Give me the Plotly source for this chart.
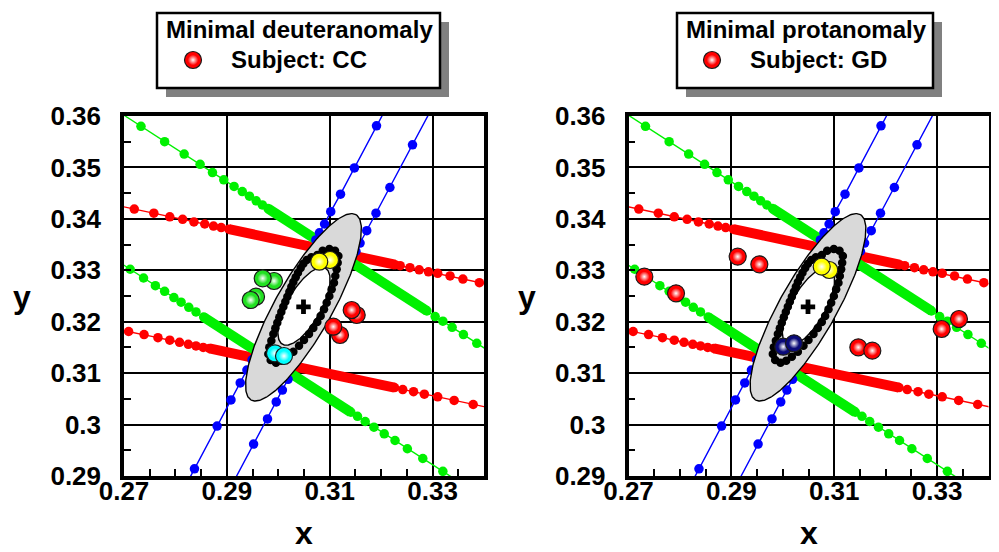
import numpy as np
import plotly.graph_objects as go

# The page places the figure 8 px in from the top-left corner, so the figure is
# laid out in reference-pixel coordinates minus this offset.
OFF = 8
W, H = 999 - OFF, 552 - OFF
FONT = "Liberation Sans, Arial, sans-serif"

# ---------------- axes / ticks ----------------
X_RANGE = [0.27, 0.34]
Y_RANGE = [0.29, 0.36]
X_TICKS = [0.27, 0.29, 0.31, 0.33]
X_TICK_LABELS = ["0.27", "0.29", "0.31", "0.33"]
Y_TICKS = [0.29, 0.30, 0.31, 0.32, 0.33, 0.34, 0.35, 0.36]
Y_TICK_LABELS = ["0.29", "0.3", "0.31", "0.32", "0.33", "0.34", "0.35", "0.36"]

# ---------------- confusion lines (dot positions) ----------------
RED_UPPER_X = [0.2673, 0.2720, 0.2758, 0.2789, 0.2814, 0.2836, 0.2857, 0.2874, 0.2889, 0.2904,
               0.3227, 0.3237, 0.3256, 0.3274, 0.3292, 0.3310, 0.3334, 0.3359, 0.3391, 0.3429]
RED_UPPER_Y = [0.3429, 0.3419, 0.3411, 0.3404, 0.3399, 0.3394, 0.3390, 0.3386, 0.3383, 0.3380,
               0.3311, 0.3309, 0.3305, 0.3301, 0.3297, 0.3294, 0.3289, 0.3283, 0.3276, 0.3268]
RED_UPPER_DENSE_X = [0.2904, 0.3227]
RED_UPPER_DENSE_Y = [0.3380, 0.3311]

RED_LOWER_X = [0.2683, 0.2709, 0.2739, 0.2766, 0.2789, 0.2808, 0.2825, 0.2840, 0.2854, 0.2866,
               0.3226, 0.3242, 0.3263, 0.3284, 0.3310, 0.3342, 0.3379, 0.3423]
RED_LOWER_Y = [0.3186, 0.3181, 0.3175, 0.3169, 0.3164, 0.3160, 0.3156, 0.3153, 0.3150, 0.3148,
               0.3072, 0.3068, 0.3064, 0.3059, 0.3054, 0.3047, 0.3039, 0.3030]
RED_LOWER_DENSE_X = [0.2866, 0.3226]
RED_LOWER_DENSE_Y = [0.3148, 0.3072]

GREEN_UPPER_X = [0.2679, 0.2733, 0.2779, 0.2817, 0.2848, 0.2872, 0.2894, 0.2914, 0.2930, 0.2944,
                 0.2957, 0.2969, 0.2980, 0.3289, 0.3305, 0.3320, 0.3338, 0.3360, 0.3386, 0.3417]
GREEN_UPPER_Y = [0.3615, 0.3580, 0.3550, 0.3526, 0.3506, 0.3490, 0.3476, 0.3463, 0.3453, 0.3444,
                 0.3435, 0.3427, 0.3420, 0.3221, 0.3210, 0.3201, 0.3189, 0.3175, 0.3158, 0.3138]
GREEN_UPPER_DENSE_X = [0.2980, 0.3289]
GREEN_UPPER_DENSE_Y = [0.3420, 0.3221]

GREEN_LOWER_X = [0.2681, 0.2712, 0.2738, 0.2761, 0.2779, 0.2797, 0.2811, 0.2826, 0.2840, 0.2855,
                 0.3141, 0.3154, 0.3169, 0.3186, 0.3206, 0.3227, 0.3251, 0.3281, 0.3320, 0.3368]
GREEN_LOWER_Y = [0.3322, 0.3302, 0.3285, 0.3270, 0.3259, 0.3247, 0.3238, 0.3228, 0.3219, 0.3209,
                 0.3024, 0.3016, 0.3006, 0.2995, 0.2982, 0.2969, 0.2953, 0.2934, 0.2909, 0.2878]
GREEN_LOWER_DENSE_X = [0.2855, 0.3141]
GREEN_LOWER_DENSE_Y = [0.3209, 0.3024]

BLUE_LEFT_X = [0.2770, 0.2837, 0.2881, 0.2908, 0.2926, 0.2939, 0.2949, 0.2958,
               0.3073, 0.3080, 0.3090, 0.3102, 0.3121, 0.3148, 0.3191, 0.3253]
BLUE_LEFT_Y = [0.2787, 0.2914, 0.2997, 0.3048, 0.3081, 0.3106, 0.3126, 0.3141,
               0.3359, 0.3373, 0.3390, 0.3414, 0.3448, 0.3499, 0.3581, 0.3697]

BLUE_RIGHT_X = [0.2910, 0.2952, 0.2979, 0.2996, 0.3008, 0.3019,
                0.3151, 0.3159, 0.3172, 0.3190, 0.3217, 0.3261, 0.3328]
BLUE_RIGHT_Y = [0.2883, 0.2962, 0.3011, 0.3044, 0.3067, 0.3088,
                0.3337, 0.3353, 0.3377, 0.3411, 0.3461, 0.3544, 0.3670]

# ---------------- discrimination ellipses ----------------
OUTER_ELLIPSE = {"cx": 0.3049, "cy": 0.3228, "a": 0.0207, "b": 0.0055, "angle": 60.5}
INNER_ELLIPSE = {"cx": 0.3050, "cy": 0.3230, "a": 0.0085, "b": 0.0033, "angle": 60.5}
CENTER_X = [0.3049]
CENTER_Y = [0.3229]

# ring of reference (black) points
RING_X = [0.30759, 0.30863, 0.30993, 0.31103, 0.31168, 0.31155,
          0.31135, 0.31109, 0.31083, 0.31038, 0.30993, 0.30941, 0.30889, 0.30824, 0.30759,
          0.30681, 0.30597, 0.30500, 0.30403, 0.30293,
          0.30176, 0.30066, 0.29956, 0.29852, 0.29806, 0.29826, 0.29865,
          0.29904, 0.29943, 0.29981, 0.30020, 0.30059, 0.30098, 0.30137, 0.30176, 0.30215,
          0.30254, 0.30293, 0.30338, 0.30383, 0.30435, 0.30487, 0.30552, 0.30643]
RING_Y = [0.33297, 0.33382, 0.33414, 0.33382, 0.33278, 0.33148,
          0.33019, 0.32889, 0.32759, 0.32630, 0.32500, 0.32370, 0.32241, 0.32111, 0.31995,
          0.31878, 0.31761, 0.31645, 0.31534, 0.31418,
          0.31321, 0.31243, 0.31204, 0.31256, 0.31372, 0.31502, 0.31632,
          0.31761, 0.31871, 0.31982, 0.32085, 0.32189, 0.32293, 0.32390, 0.32487, 0.32584,
          0.32682, 0.32772, 0.32863, 0.32954, 0.33044, 0.33129, 0.33200, 0.33252]

# ---------------- subject matches (spheres) ----------------
# left panel: Subject CC (deuteranomaly)
CC_YELLOW_X = [0.31006, 0.30797]
CC_YELLOW_Y = [0.33200, 0.33167]
CC_GREEN_X = [0.29917, 0.29697, 0.29567, 0.29464]
CC_GREEN_Y = [0.32792, 0.32844, 0.32486, 0.32422]
CC_RED_X = [0.31525, 0.31427, 0.31200, 0.31070]
CC_RED_Y = [0.32131, 0.32228, 0.31742, 0.31903]
CC_CYAN_X = [0.29936, 0.30111]
CC_CYAN_Y = [0.31386, 0.31333]

# right panel: Subject GD (protanomaly)
GD_RED_X = [0.27308, 0.27924, 0.29123, 0.29544, 0.31469, 0.31741, 0.33426, 0.33089]
GD_RED_Y = [0.32876, 0.32552, 0.33265, 0.33116, 0.31502, 0.31437, 0.32053, 0.31858]
GD_YELLOW_X = [0.30904, 0.30757]
GD_YELLOW_Y = [0.33006, 0.33070]
GD_NAVY_X = [0.30010, 0.30218]
GD_NAVY_Y = [0.31514, 0.31580]

PANEL_TITLES = ["Minimal deuteranomaly", "Minimal protanomaly"]
SUBJECTS = ["Subject: CC", "Subject: GD"]

# ---------------- style ----------------
C_RED = "#ff0000"
C_GREEN = "#00f000"
C_BLUE = "#0000ff"

# plot frames in reference pixels
LEFT_PX = [124, 484]
RIGHT_PX = [628.5, 988.5]
TOP_PX, BOT_PX = 116, 476


def px(x):
    return (x - OFF) / W


def py(y):
    return 1 - (y - OFF) / H


def ellipse_path(e, n=240):
    t = np.linspace(0, 2 * np.pi, n)
    th = np.deg2rad(e["angle"])
    x = e["cx"] + e["a"] * np.cos(t) * np.cos(th) - e["b"] * np.sin(t) * np.sin(th)
    y = e["cy"] + e["a"] * np.cos(t) * np.sin(th) + e["b"] * np.sin(t) * np.cos(th)
    return x, y


def spheres(fig, x, y, color, xa, ya, size=17):
    fig.add_trace(go.Scatter(
        x=x, y=y, xaxis=xa, yaxis=ya, mode="markers", showlegend=False, hoverinfo="skip",
        marker=dict(size=size, color=color, line=dict(color="#1a1a1a", width=1.2))))
    fig.add_trace(go.Scatter(
        x=x, y=y, xaxis=xa, yaxis=ya, mode="markers", showlegend=False, hoverinfo="skip",
        marker=dict(size=size * 0.62, color="rgba(255,255,255,0)", line=dict(width=0),
                    gradient=dict(type="radial", color="white"))))


def sphere_pairs(fig, x, y, color, xa, ya, size=17):
    # draw one by one so later spheres overlap earlier ones (base + highlight each)
    for xi, yi in zip(x, y):
        spheres(fig, [xi], [yi], color, xa, ya, size)


fig = go.Figure()

lines = [
    (RED_UPPER_X, RED_UPPER_Y, RED_UPPER_DENSE_X, RED_UPPER_DENSE_Y, C_RED),
    (RED_LOWER_X, RED_LOWER_Y, RED_LOWER_DENSE_X, RED_LOWER_DENSE_Y, C_RED),
    (GREEN_UPPER_X, GREEN_UPPER_Y, GREEN_UPPER_DENSE_X, GREEN_UPPER_DENSE_Y, C_GREEN),
    (GREEN_LOWER_X, GREEN_LOWER_Y, GREEN_LOWER_DENSE_X, GREEN_LOWER_DENSE_Y, C_GREEN),
    (BLUE_LEFT_X, BLUE_LEFT_Y, None, None, C_BLUE),
    (BLUE_RIGHT_X, BLUE_RIGHT_Y, None, None, C_BLUE),
]

panels = [
    ("x", "y", [(CC_YELLOW_X, CC_YELLOW_Y, "#ffff00"), (CC_GREEN_X, CC_GREEN_Y, "#22e022"),
                (CC_RED_X, CC_RED_Y, "#ff0000"), (CC_CYAN_X, CC_CYAN_Y, "#00ffff")]),
    ("x2", "y2", [(GD_RED_X, GD_RED_Y, "#ff0000"), (GD_YELLOW_X, GD_YELLOW_Y, "#ffff00"),
                  (GD_NAVY_X, GD_NAVY_Y, "#0a0a78")]),
]

ox, oy = ellipse_path(OUTER_ELLIPSE)
ix, iy = ellipse_path(INNER_ELLIPSE)

for xa, ya, sph in panels:
    for lx, ly, bx, by, col in lines:
        if bx is not None:
            fig.add_trace(go.Scatter(x=bx, y=by, xaxis=xa, yaxis=ya, mode="lines",
                                     line=dict(color=col, width=10), showlegend=False,
                                     hoverinfo="skip"))
        fig.add_trace(go.Scatter(x=lx, y=ly, xaxis=xa, yaxis=ya, mode="lines+markers",
                                 line=dict(color=col, width=1.4),
                                 marker=dict(color=col, size=9.5), showlegend=False,
                                 hoverinfo="skip"))
    fig.add_trace(go.Scatter(x=ox, y=oy, xaxis=xa, yaxis=ya, mode="lines", fill="toself",
                             fillcolor="#d9d9d9", line=dict(color="black", width=1.4),
                             showlegend=False, hoverinfo="skip"))
    fig.add_trace(go.Scatter(x=ix, y=iy, xaxis=xa, yaxis=ya, mode="lines", fill="toself",
                             fillcolor="white", line=dict(color="black", width=1.4),
                             showlegend=False, hoverinfo="skip"))
    fig.add_trace(go.Scatter(x=RING_X, y=RING_Y, xaxis=xa, yaxis=ya, mode="markers",
                             marker=dict(color="black", size=8.5), showlegend=False,
                             hoverinfo="skip"))
    fig.add_trace(go.Scatter(x=CENTER_X, y=CENTER_Y, xaxis=xa, yaxis=ya, mode="markers",
                             marker=dict(color="black", size=12, symbol="cross"),
                             showlegend=False, hoverinfo="skip"))
    for sx, sy, col in sph:
        sphere_pairs(fig, sx, sy, col, xa, ya)

# legend glyph spheres, on an overlay axis measured in reference pixels
LEGEND_SPHERE_PX_X = [193, 712]
LEGEND_SPHERE_PX_Y = [60, 60]
sphere_pairs(fig, LEGEND_SPHERE_PX_X, LEGEND_SPHERE_PX_Y, "#ff0000", "x3", "y3")

axis_common = dict(
    showgrid=True, gridcolor="black", gridwidth=2, zeroline=False,
    showline=True, linecolor="black", linewidth=3.5, mirror=True,
    ticks="inside", ticklen=6, tickwidth=1.5, tickcolor="black",
    tickfont=dict(family=FONT, size=26, color="black", weight="bold"),
    automargin=False,
)


def xaxis(dom, anchor):
    return dict(axis_common, domain=dom, range=X_RANGE, anchor=anchor,
                tickvals=X_TICKS, ticktext=X_TICK_LABELS, ticklabelstandoff=-11,
                minor=dict(dtick=0.005, tick0=0.27, ticks="inside", ticklen=7,
                           tickwidth=1.5, tickcolor="black", showgrid=False))


def yaxis(dom, anchor):
    return dict(axis_common, domain=dom, range=Y_RANGE, anchor=anchor,
                tickvals=Y_TICKS, ticktext=Y_TICK_LABELS, ticklabelstandoff=14,
                minor=dict(dtick=0.005, tick0=0.29, ticks="inside", ticklen=7,
                           tickwidth=1.5, tickcolor="black", showgrid=False))


ydom = [py(BOT_PX), py(TOP_PX)]
fig.update_layout(
    width=W, height=H, margin=dict(l=0, r=0, t=0, b=0),
    paper_bgcolor="white", plot_bgcolor="rgba(0,0,0,0)", showlegend=False,
    xaxis=xaxis([px(LEFT_PX[0]), px(LEFT_PX[1])], "y"),
    yaxis=yaxis(ydom, "x"),
    xaxis2=xaxis([px(RIGHT_PX[0]), px(RIGHT_PX[1])], "y2"),
    yaxis2=yaxis(ydom, "x2"),
    xaxis3=dict(domain=[0, 1], range=[OFF, OFF + W], visible=False, anchor="y3",
                fixedrange=True),
    yaxis3=dict(domain=[0, 1], range=[OFF + H, OFF], visible=False, anchor="x3",
                fixedrange=True),
)

# legend-like boxes with drop shadow (reference pixels)
BOXES_PX = [(157, 13, 440, 88), (677, 13, 933, 88)]
SHADOW = 9
shapes = []
annotations = []
for i, (x0, y0, x1, y1) in enumerate(BOXES_PX):
    shapes.append(dict(type="rect", xref="paper", yref="paper", layer="below",
                       x0=px(x0 + SHADOW), x1=px(x1 + SHADOW),
                       y0=py(y1 + SHADOW), y1=py(y0 + SHADOW),
                       fillcolor="#808080", line=dict(width=0)))
    shapes.append(dict(type="rect", xref="paper", yref="paper", layer="below",
                       x0=px(x0), x1=px(x1), y0=py(y1), y1=py(y0),
                       fillcolor="white", line=dict(color="black", width=2.5)))
    annotations.append(dict(xref="paper", yref="paper", x=px((x0 + x1) / 2 + 1), y=py(30),
                            text="<b>%s</b>" % PANEL_TITLES[i], showarrow=False,
                            xanchor="center", yanchor="middle",
                            font=dict(family=FONT, size=24, color="black")))
    annotations.append(dict(xref="paper", yref="paper",
                            x=px(LEGEND_SPHERE_PX_X[i] + 36), y=py(59),
                            text="<b>%s</b>" % SUBJECTS[i], showarrow=False,
                            xanchor="left", yanchor="middle",
                            font=dict(family=FONT, size=24, color="black")))

# axis titles
for cx in [(LEFT_PX[0] + LEFT_PX[1]) / 2, (RIGHT_PX[0] + RIGHT_PX[1]) / 2]:
    annotations.append(dict(xref="paper", yref="paper", x=px(cx), y=py(533),
                            text="<b>x</b>", showarrow=False, xanchor="center",
                            yanchor="middle", font=dict(family=FONT, size=32, color="black")))
for cx in [22, 527]:
    annotations.append(dict(xref="paper", yref="paper", x=px(cx), y=py(297),
                            text="<b>y</b>", showarrow=False, xanchor="center",
                            yanchor="middle", font=dict(family=FONT, size=32, color="black")))

fig.update_layout(shapes=shapes, annotations=annotations)
fig.write_html("out.html")
